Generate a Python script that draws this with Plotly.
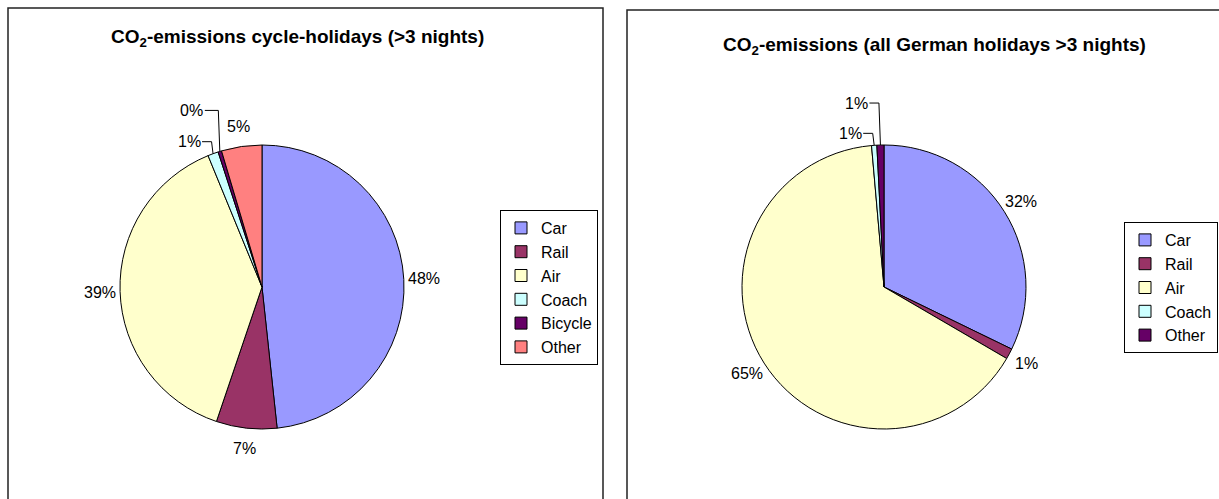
import math
import plotly.graph_objects as go

# ---- data -------------------------------------------------------------
cycle_labels = ["Car", "Rail", "Air", "Coach", "Bicycle", "Other"]
cycle_values = [48.3, 6.9, 38.6, 1.2, 0.4, 4.6]
cycle_colors = ["#9999FF", "#993366", "#FFFFCC", "#CCFFFF", "#660066", "#FF8080"]

german_labels = ["Car", "Rail", "Air", "Coach", "Other"]
german_values = [32.2, 1.2, 65.2, 0.6, 0.8]
german_colors = ["#9999FF", "#993366", "#FFFFCC", "#CCFFFF", "#660066"]

title_left = "CO<sub>2</sub>-emissions cycle-holidays (>3 nights)"
title_right = "CO<sub>2</sub>-emissions (all German holidays >3 nights)"

# ---- page geometry (pixels) --------------------------------------------
W, H = 1219, 499
FONT = "Liberation Sans, Arial, sans-serif"
PIES = {
    "left": dict(cx=262, cy=287, r=142),
    "right": dict(cx=884, cy=287, r=142),
}
LABEL_GAP = 20
# slices whose labels are pulled away and joined by a leader line:
# (pie, slice index) -> label offset from the slice's rim point
CALLOUTS = {
    ("left", 3): (-24, -12),
    ("left", 4): (-28, -41),
    ("right", 3): (-24, -12),
    ("right", 4): (-24, -42),
}


def px(x, y):
    return x / W, 1 - y / H


def domain(g):
    x0, y1 = px(g["cx"] - g["r"], g["cy"] - g["r"])
    x1, y0 = px(g["cx"] + g["r"], g["cy"] + g["r"])
    return dict(x=[x0, x1], y=[y0, y1])


fig = go.Figure()
annotations = []
shapes = []


def add_pie(key, labels, values, colors, legend, tag=""):
    g = PIES[key]
    # pie legends merge equal labels across traces, so each chart's
    # labels get an invisible zero-width tag to keep two separate legends
    fig.add_trace(go.Pie(
        labels=[lab + tag for lab in labels], values=values, sort=False,
        direction="clockwise", rotation=0, textinfo="none",
        hoverinfo="label+percent",
        marker=dict(colors=colors, line=dict(color="black", width=1)),
        domain=domain(g), legend=legend, showlegend=True,
    ))
    total = sum(values)
    cum = 0.0
    for i, v in enumerate(values):
        mid = (cum + v / 2) / total
        cum += v
        th = 2 * math.pi * mid
        s, c = math.sin(th), math.cos(th)
        text = f"{round(100 * v / total)}%"
        if (key, i) in CALLOUTS:
            ex, ey = g["cx"] + g["r"] * s, g["cy"] - g["r"] * c
            dx, dy = CALLOUTS[(key, i)]
            lx, ly = ex + dx, ey + dy
            # leader: rim point -> elbow -> next to the label
            pts = [(ex, ey), (ex - 1.5, ly), (lx + 13, ly)]
            for (ax, ay), (bx, by) in zip(pts[:-1], pts[1:]):
                x0, y0 = px(ax, ay)
                x1, y1 = px(bx, by)
                shapes.append(dict(type="line", xref="paper", yref="paper",
                                   x0=x0, y0=y0, x1=x1, y1=y1,
                                   line=dict(color="black", width=1)))
        else:
            rr = g["r"] + LABEL_GAP
            lx, ly = g["cx"] + rr * s, g["cy"] - rr * c
        ax_, ay_ = px(lx, ly)
        annotations.append(dict(
            x=ax_, y=ay_, xref="paper", yref="paper", text=text,
            showarrow=False, xanchor="center", yanchor="middle",
            font=dict(family=FONT, size=16, color="black"),
        ))


add_pie("left", cycle_labels, cycle_values, cycle_colors, "legend")
add_pie("right", german_labels, german_values, german_colors, "legend2",
        tag="\u200b")

# chart titles, centred over each chart area
for text, (x, y) in [(title_left, (297, 38)), (title_right, (934, 46))]:
    ax_, ay_ = px(x, y)
    annotations.append(dict(
        x=ax_, y=ay_, xref="paper", yref="paper", text=f"<b>{text}</b>",
        showarrow=False, xanchor="center", yanchor="middle",
        font=dict(family=FONT, size=19, color="black"),
    ))

# chart frames
for x0, y0, x1, y1 in [(8, 8, 603, 520), (627, 10, 1240, 520)]:
    a0, b0 = px(x0, y0)
    a1, b1 = px(x1, y1)
    shapes.append(dict(type="rect", xref="paper", yref="paper",
                       x0=a0, y0=b1, x1=a1, y1=b0,
                       line=dict(color="#222222", width=1.5)))

legend_style = dict(
    xanchor="left", yanchor="top", bgcolor="white",
    bordercolor="black", borderwidth=1,
    font=dict(family=FONT, size=16, color="black"),
    itemwidth=30, traceorder="normal",
)
lx, ly = px(500, 210)
rx, ry = px(1124, 222)

fig.update_layout(
    width=W, height=H,
    margin=dict(l=0, r=0, t=0, b=0),
    paper_bgcolor="white", plot_bgcolor="white",
    font=dict(family=FONT, color="black"),
    annotations=annotations, shapes=shapes,
    legend=dict(x=lx, y=ly, **legend_style),
    legend2=dict(x=rx, y=ry, **legend_style),
)

fig.write_html("out.html")
